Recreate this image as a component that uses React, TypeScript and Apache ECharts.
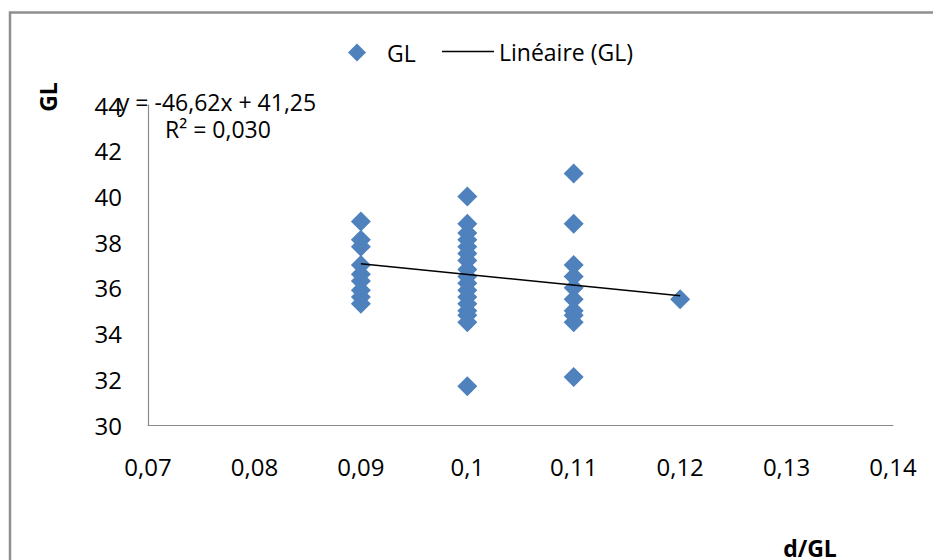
import React, { useEffect, useRef } from "react";
import * as echarts from "echarts";

// d/GL categories (x values) and GL values
const xGroups = [0.09, 0.1, 0.11, 0.12];
const glAt009 = [38.9, 38.1, 37.8, 37.0, 36.6, 36.3, 35.9, 35.6, 35.3];
const glAt010 = [40.0, 38.8, 38.4, 38.1, 37.8, 37.5, 37.2, 36.8, 36.5, 36.2, 35.9, 35.6, 35.3, 35.0, 34.8, 34.5, 31.7];
const glAt011 = [41.0, 38.8, 37.0, 36.5, 36.0, 35.5, 35.0, 34.8, 34.5, 32.1];
const glAt012 = [35.5];
const groupValues = [glAt009, glAt010, glAt011, glAt012];

// trend line (from the displayed equation)
const trendSlope = -46.62;
const trendIntercept = 41.25;
const trendRange = [0.09, 0.12];
const equationText = "y = -46,62x + 41,25";
const r2Text = "R² = 0,030";

// axes
const xMin = 0.07, xMax = 0.14, xStep = 0.01;
const yMin = 30, yMax = 44, yStep = 2;

const FONT = "'Open Sans', sans-serif";

export default function App() {
  const ref = useRef<HTMLDivElement>(null);

  useEffect(() => {
    if (!ref.current) return;
    const chart = echarts.init(ref.current, null, { renderer: "svg" });

    const scatterData: number[][] = [];
    groupValues.forEach((vals, i) => vals.forEach((v) => scatterData.push([xGroups[i], v])));
    const trendData = trendRange.map((x) => [x, trendSlope * x + trendIntercept]);

    const fmt = (v: number) => String(+v.toFixed(2)).replace(".", ",");

    chart.setOption({
      animation: false,
      backgroundColor: "#ffffff",
      textStyle: { fontFamily: FONT },
      grid: { left: 148, top: 105, right: 40, bottom: 135, containLabel: false },
      legend: [
        {
          data: [{ name: "GL", icon: "diamond" }],
          left: 348,
          top: 41,
          padding: 0,
          itemWidth: 18,
          itemHeight: 18,
          textStyle: { fontFamily: FONT, fontSize: 23, color: "#000", padding: [0, 0, 0, 16] },
        },
        {
          data: [{ name: "Linéaire (GL)", icon: "rect", itemStyle: { color: "#000" } }],
          left: 442,
          top: 40,
          padding: 0,
          itemWidth: 52,
          itemHeight: 1.6,
          textStyle: { fontFamily: FONT, fontSize: 23, color: "#000" },
        },
      ],
      xAxis: {
        type: "value",
        min: xMin,
        max: xMax,
        interval: xStep,
        splitLine: { show: false },
        axisTick: { show: false },
        axisLine: { lineStyle: { color: "#8a8a8a", width: 1.2 } },
        axisLabel: {
          formatter: fmt,
          fontFamily: FONT,
          fontSize: 24,
          color: "#000",
          margin: 29,
          showMinLabel: true,
          showMaxLabel: true,
        },
      },
      yAxis: {
        type: "value",
        min: yMin,
        max: yMax,
        interval: yStep,
        splitLine: { show: false },
        axisTick: { show: false },
        axisLine: { show: true, lineStyle: { color: "#8a8a8a", width: 1.2 } },
        axisLabel: { fontFamily: FONT, fontSize: 24, color: "#000", margin: 26 },
      },
      series: [
        {
          name: "GL",
          type: "scatter",
          symbol: "diamond",
          symbolSize: 20,
          itemStyle: { color: "#4F81BD", opacity: 1 },
          data: scatterData,
          z: 2,
        },
        {
          name: "Linéaire (GL)",
          type: "line",
          symbol: "none",
          lineStyle: { color: "#000", width: 1.6 },
          itemStyle: { color: "#000" },
          data: trendData,
          z: 3,
        },
      ],
      graphic: [
        {
          type: "rect",
          shape: { x: 10, y: 12.5, width: 1000, height: 1000 },
          style: { fill: "none", stroke: "#8f8f8f", lineWidth: 2.5 },
          silent: true,
        },
        {
          type: "text",
          x: 217,
          y: 102,
          style: { text: equationText, fontFamily: FONT, fontSize: 23, fill: "#000", align: "center", verticalAlign: "middle" },
        },
        {
          type: "text",
          x: 218,
          y: 129,
          style: { text: r2Text, fontFamily: FONT, fontSize: 23, fill: "#000", align: "center", verticalAlign: "middle" },
        },
        {
          type: "text",
          x: 48,
          y: 97,
          rotation: Math.PI / 2,
          style: { text: "GL", fontFamily: FONT, fontSize: 23, fontWeight: "bold", fill: "#000", align: "center", verticalAlign: "middle" },
        },
        {
          type: "text",
          x: 810,
          y: 548,
          style: { text: "d/GL", fontFamily: FONT, fontSize: 23, lineHeight: 20, fontWeight: "bold", fill: "#000", align: "center", verticalAlign: "middle" },
        },
      ],
    });

    return () => chart.dispose();
  }, []);

  return (
    <div
      ref={ref}
      style={{ position: "fixed", left: 0, top: 0, width: 933, height: 560, background: "#fff" }}
    />
  );
}
